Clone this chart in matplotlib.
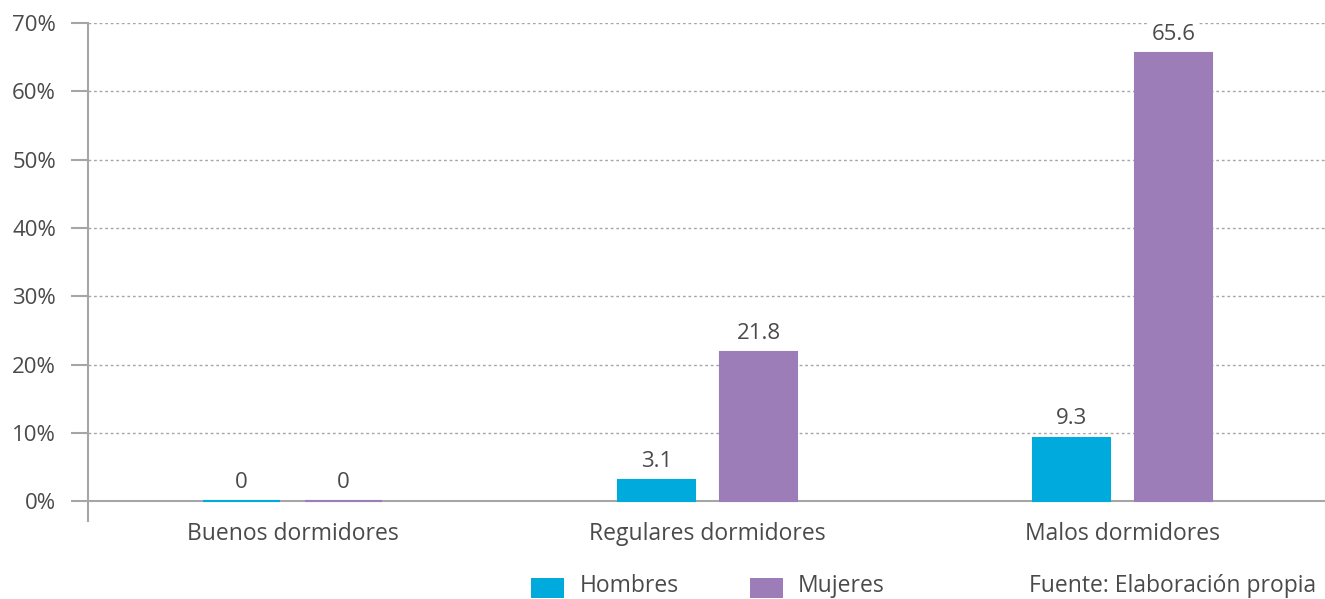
import matplotlib
matplotlib.use("Agg")
import matplotlib.pyplot as plt
from matplotlib.patches import Rectangle
import numpy as np

categories = ["Buenos dormidores", "Regulares dormidores", "Malos dormidores"]
hombres = [0, 3.1, 9.3]
mujeres = [0, 21.8, 65.6]
series_names = ["Hombres", "Mujeres"]
yticks = [0, 10, 20, 30, 40, 50, 60, 70]
ytick_labels = ["0%", "10%", "20%", "30%", "40%", "50%", "60%", "70%"]
source_text = "Fuente: Elaboración propia"

c_h = "#00aadd"
c_m = "#9c7db7"
txt = "#4a4a4a"
grey = "#a6a6a6"

plt.rcParams["font.family"] = ["Open Sans", "DejaVu Sans"]

W, H = 1325, 599
fig = plt.figure(figsize=(W / 100, H / 100), dpi=100)
ax = fig.add_axes([88 / W, (H - 521) / H, (1325 - 88) / W, (521 - 23) / H])

x = np.arange(len(categories))
w = 0.185
off = 0.123
b1 = ax.bar(x - off, hombres, w, color=c_h, edgecolor=c_h, linewidth=1.5, zorder=3)
b2 = ax.bar(x + off, mujeres, w, color=c_m, edgecolor=c_m, linewidth=1.5, zorder=3)

for bars, vals in ((b1, hombres), (b2, mujeres)):
    for r, v in zip(bars, vals):
        ax.annotate(f"{v:g}", (r.get_x() + r.get_width() / 2, r.get_height()),
                    xytext=(0, 6), textcoords="offset points", ha="center", va="bottom",
                    fontsize=16, color=txt, zorder=5,
                    bbox=dict(boxstyle="square,pad=0.15", fc="white", ec="none"))

ax.set_xlim(-0.493, 2.488)
ax.set_ylim(-2.9, 70)
ax.set_yticks(yticks)
ax.set_yticklabels(ytick_labels)
for yv in yticks[1:]:
    ax.axhline(yv, color=grey, linestyle=(0, (2, 2)), linewidth=1.0, zorder=1)
ax.axhline(0, color=grey, linewidth=1.5, zorder=2)

ax.set_xticks(x)
ax.set_xticklabels(categories)
ax.tick_params(axis="x", length=0, pad=1, labelsize=16.5, labelcolor=txt)
ax.tick_params(axis="y", length=12, width=1.5, color=grey, pad=11, labelsize=16, labelcolor=txt)

for s in ("top", "right", "bottom"):
    ax.spines[s].set_visible(False)
ax.spines["left"].set_color(grey)
ax.spines["left"].set_linewidth(1.5)

def fx(px):
    return px / W

def fy(py):
    return 1 - py / H

for name, col, sq_x, tx in ((series_names[0], c_h, 531, 580), (series_names[1], c_m, 750, 798)):
    fig.patches.append(Rectangle((fx(sq_x), fy(598)), 33 / W, 20 / H, transform=fig.transFigure,
                                 facecolor=col, edgecolor="none"))
    fig.text(fx(tx), fy(586), name, ha="left", va="center", fontsize=16.5, color=txt)
fig.text(fx(1316), fy(586), source_text, ha="right", va="center", fontsize=16.5, color=txt)

fig.savefig("out.png", dpi=100)
